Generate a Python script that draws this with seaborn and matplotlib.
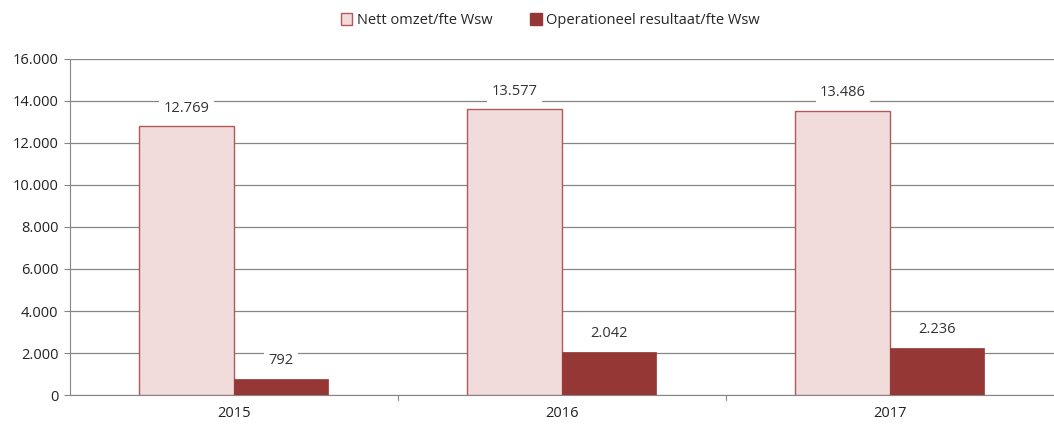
import numpy as np
import pandas as pd
import seaborn as sns
import matplotlib.pyplot as plt
from matplotlib.patches import Patch

years = ['2015', '2016', '2017']
omzet = [12769, 13577, 13486]
resultaat = [792, 2042, 2236]
series = ['Nett omzet/fte Wsw', 'Operationeel resultaat/fte Wsw']
yticks = [0, 2000, 4000, 6000, 8000, 10000, 12000, 14000, 16000]


def fmt(v):
    return f'{v:,.0f}'.replace(',', '.')


def main():
    df = pd.DataFrame({
        'Jaar': years * 2,
        'Waarde': omzet + resultaat,
        'Reeks': [series[0]] * 3 + [series[1]] * 3,
    })

    sns.set_style('white')
    plt.rcParams['font.family'] = ['Open Sans', 'DejaVu Sans']
    fs = 10.5

    fig, ax = plt.subplots(figsize=(10.54, 4.24), dpi=100)
    fig.subplots_adjust(left=0.066, right=1.0, top=0.862, bottom=0.068)

    colors = ['#f2dcdb', '#953735']
    sns.barplot(data=df, x='Jaar', y='Waarde', hue='Reeks', palette=colors,
                saturation=1, width=0.576, ax=ax, legend=False, zorder=3)

    for i, bar in enumerate(ax.patches):
        if i < 3:
            bar.set_edgecolor('#b0585a')
            bar.set_linewidth(1.0)
        else:
            bar.set_edgecolor('#953735')
            bar.set_linewidth(0.5)

    # value labels with white box over the gridlines
    for bar in ax.patches:
        h = bar.get_height()
        ax.text(bar.get_x() + bar.get_width() / 2, h + 520, fmt(h),
                ha='center', va='bottom', fontsize=fs, color='#333333',
                zorder=4,
                bbox=dict(facecolor='white', edgecolor='none', pad=3))

    ax.set_ylim(0, 16000)
    ax.set_xlim(-0.5, 2.5)
    ax.set_yticks(yticks)
    ax.set_yticklabels([fmt(v) for v in yticks], fontsize=fs, color='#222222')
    ax.set_xticks([0, 1, 2])
    ax.set_xticklabels(years, fontsize=fs, color='#222222')
    ax.tick_params(axis='x', length=0, pad=8)
    ax.tick_params(axis='y', length=4, color='#868686', pad=4, left=True)
    for x in [0.5, 1.5]:
        ax.plot([x, x], [0, -220], color='#868686', lw=0.8, clip_on=False)
    ax.yaxis.grid(True, color='#868686', lw=0.9, zorder=0)
    ax.set_axisbelow(True)
    ax.set_xlabel('')
    ax.set_ylabel('')

    for s in ['top', 'right']:
        ax.spines[s].set_visible(False)
    ax.spines['left'].set_color('#868686')
    ax.spines['bottom'].set_color('#868686')

    handles = [Patch(facecolor=colors[0], edgecolor='#b0585a', label=series[0]),
               Patch(facecolor=colors[1], edgecolor='#953735', label=series[1])]
    fig.legend(handles=handles, loc='upper center', bbox_to_anchor=(0.522, 1.0),
               ncol=2, frameon=False, fontsize=fs, handlelength=0.8,
               handleheight=0.8, handletextpad=0.3, columnspacing=2.6)

    fig.savefig('out.png', dpi=100)
    plt.close()


if __name__ == '__main__':
    main()
